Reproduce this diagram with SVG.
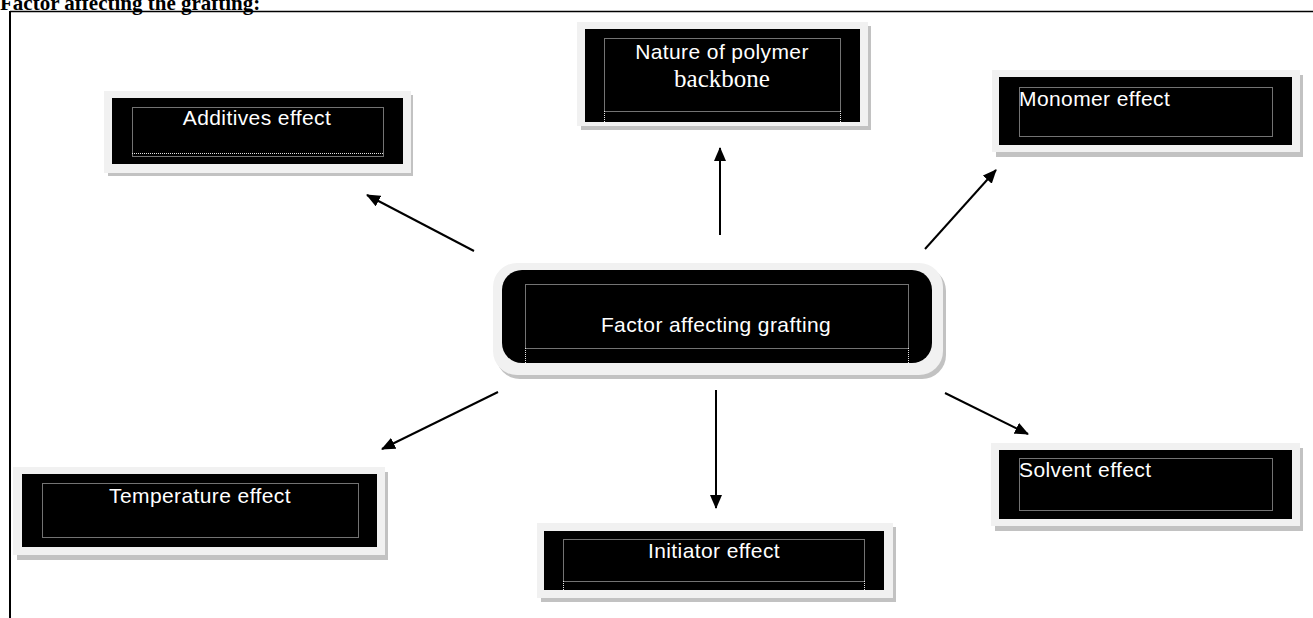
<svg xmlns="http://www.w3.org/2000/svg" width="1313" height="618" viewBox="0 0 1313 618">
<style>
.bg{fill:#ffffff}
.shadow{fill:#c2c2c2}
.frame{fill:#f1f1f1}
.box{fill:#000000}
.dot{fill:none;stroke:#e6e6e6;stroke-width:1;stroke-dasharray:1 1}
.lbl{font-family:"Liberation Sans",Arial,sans-serif;font-size:21px;fill:#ffffff;letter-spacing:0.4px}
.ser{font-family:"Liberation Serif","Times New Roman",serif;font-size:25px;fill:#ffffff}
.title{font-family:"Liberation Serif","Times New Roman",serif;font-size:21px;font-weight:bold;fill:#000000}
.conn line{stroke:#000000;stroke-width:2;marker-end:url(#ah)}
</style>
<defs>
<marker id="ah" viewBox="0 0 14 12" refX="13" refY="6" markerWidth="14" markerHeight="12" orient="auto" markerUnits="userSpaceOnUse">
<path d="M0,0 L14,6 L0,12 z" fill="#000000"/>
</marker>
</defs>
<rect class="bg" x="0" y="0" width="1313" height="618"/>
<text class="title" x="0" y="10">Factor affecting the grafting:</text>
<line x1="10" y1="11.5" x2="1313" y2="11.5" stroke="#000" stroke-width="1.5"/>
<line x1="10" y1="11" x2="10" y2="618" stroke="#000" stroke-width="2"/>

<g id="node-additives">
<rect class="shadow" x="108" y="95" width="305" height="81"/>
<rect class="frame" x="104" y="91" width="307" height="82"/>
<rect class="box" x="112" y="98" width="291" height="66"/>
<rect class="dot" x="132.5" y="107.5" width="251" height="49"/>
<line class="dot" x1="132" y1="153.5" x2="383" y2="153.5"/>
<text class="lbl" x="257" y="125" text-anchor="middle">Additives effect</text>
</g>

<g id="node-nature">
<rect class="shadow" x="581" y="26" width="290" height="104"/>
<rect class="frame" x="577" y="22" width="291" height="104"/>
<rect class="box" x="585" y="29" width="275" height="93"/>
<rect class="dot" x="604.5" y="38.5" width="236" height="73"/>
<line class="dot" x1="604.5" y1="111" x2="604.5" y2="122"/>
<line class="dot" x1="840.5" y1="111" x2="840.5" y2="122"/>
<text class="lbl" x="722" y="59" text-anchor="middle">Nature of polymer</text>
<text class="ser" x="722" y="87" text-anchor="middle">backbone</text>
</g>

<g id="node-monomer">
<rect class="shadow" x="996" y="75" width="307" height="82"/>
<rect class="frame" x="992" y="70" width="308" height="82"/>
<rect class="box" x="999" y="77" width="293" height="68"/>
<rect class="dot" x="1019.5" y="87.5" width="253" height="49"/>
<text class="lbl" x="1019" y="106">Monomer effect</text>
</g>

<g id="node-center">
<rect class="shadow" x="496" y="267" width="450" height="112" rx="24"/>
<rect class="frame" x="493" y="263" width="450" height="112" rx="24"/>
<rect class="box" x="502" y="270" width="430" height="93" rx="20"/>
<rect class="dot" x="525.5" y="284.5" width="383" height="64"/>
<line class="dot" x1="525.5" y1="348" x2="525.5" y2="363"/>
<line class="dot" x1="908.5" y1="348" x2="908.5" y2="363"/>
<text class="lbl" x="716" y="332" text-anchor="middle">Factor affecting grafting</text>
</g>

<g id="node-temperature">
<rect class="shadow" x="17" y="472" width="371" height="88"/>
<rect class="frame" x="13" y="467" width="372" height="88"/>
<rect class="box" x="22" y="474" width="355" height="73"/>
<rect class="dot" x="42.5" y="483.5" width="316" height="54"/>
<text class="lbl" x="200" y="503" text-anchor="middle">Temperature effect</text>
</g>

<g id="node-initiator">
<rect class="shadow" x="541" y="527" width="355" height="75"/>
<rect class="frame" x="537" y="523" width="356" height="75"/>
<rect class="box" x="544" y="531" width="340" height="59"/>
<rect class="dot" x="563.5" y="539.5" width="301" height="42"/>
<line class="dot" x1="563.5" y1="581" x2="563.5" y2="590"/>
<line class="dot" x1="864.5" y1="581" x2="864.5" y2="590"/>
<text class="lbl" x="714" y="558" text-anchor="middle">Initiator effect</text>
</g>

<g id="node-solvent">
<rect class="shadow" x="995" y="448" width="308" height="83"/>
<rect class="frame" x="991" y="443" width="309" height="83"/>
<rect class="box" x="999" y="450" width="293" height="69"/>
<rect class="dot" x="1019.5" y="458.5" width="253" height="52"/>
<text class="lbl" x="1019" y="477">Solvent effect</text>
</g>

<g id="connectors" class="conn">
<line x1="474" y1="251" x2="367" y2="195"/>
<line x1="720" y1="235" x2="720" y2="148"/>
<line x1="925" y1="249" x2="996" y2="170"/>
<line x1="498" y1="392" x2="382" y2="449"/>
<line x1="716" y1="390" x2="716" y2="508"/>
<line x1="945" y1="393" x2="1028" y2="434"/>
</g>
</svg>
